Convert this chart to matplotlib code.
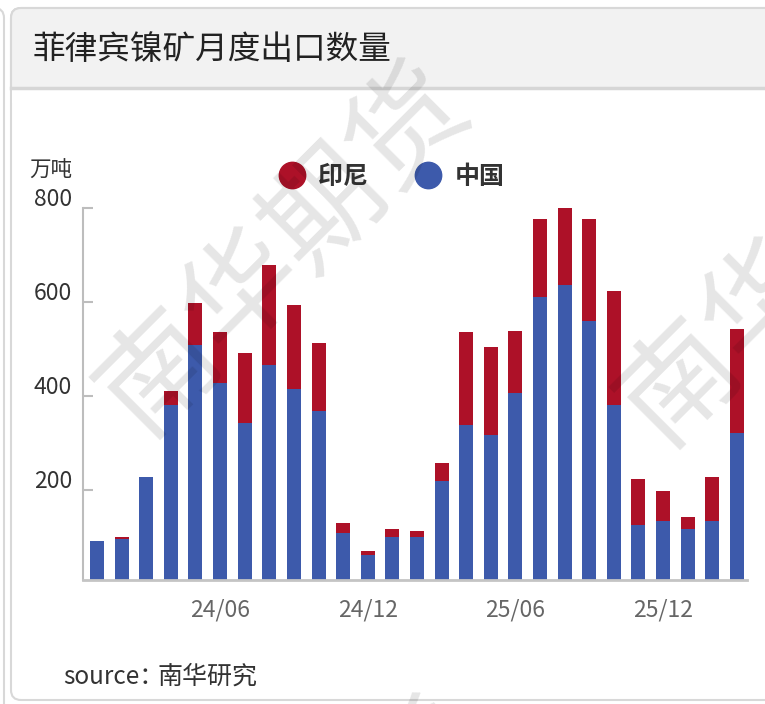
import matplotlib
matplotlib.use("Agg")
import matplotlib.pyplot as plt
from matplotlib.patches import FancyBboxPatch, Rectangle
from matplotlib.lines import Line2D
import matplotlib.transforms as mtransforms
import numpy as np

plt.rcParams['font.family'] = ['Noto Sans CJK SC', 'DejaVu Sans']

# ---- data ----
months = ['24/01', '24/02', '24/03', '24/04', '24/05', '24/06', '24/07', '24/08', '24/09',
          '24/10', '24/11', '24/12', '25/01', '25/02', '25/03', '25/04', '25/05', '25/06',
          '25/07', '25/08', '25/09', '25/10', '25/11', '25/12', '26/01', '26/02', '26/03']
china = [92, 96, 228, 381, 509, 428, 343, 466, 415, 368, 109, 62, 100, 100, 219, 339, 317,
         407, 611, 637, 560, 381, 126, 134, 117, 134, 322]
indonesia = [0, 4, 0, 30, 89, 107, 149, 213, 179, 145, 21, 8, 17, 13, 39, 196, 188, 132,
             166, 162, 217, 243, 98, 64, 26, 94, 221]
tick_labels = ['24/06', '24/12', '25/06', '25/12']
yticks = [200, 400, 600, 800]
series_names = ['印尼', '中国']

RED = '#ad1128'
BLUE = '#3d5aab'

W, H = 765, 704
fig = plt.figure(figsize=(W / 100, H / 100), dpi=100)
fig.patch.set_facecolor('white')
ident = mtransforms.IdentityTransform()


def box(x0, y0, x1, y1, **kw):
    # image pixel coords (top-left origin) -> display coords
    return FancyBboxPatch((x0, H - y1), x1 - x0, y1 - y0, transform=ident, **kw)


# previous card edge at the far left
fig.add_artist(box(-300, 8, 4, 720, boxstyle='round,pad=0,rounding_size=10',
                   facecolor='white', edgecolor='#d8d8d8', lw=1.5, zorder=-20))
# main card
fig.add_artist(box(11, 8, 790, 700, boxstyle='round,pad=0,rounding_size=10',
                   facecolor='white', edgecolor='#d8d8d8', lw=1.5, zorder=-20))
# title band
fig.add_artist(box(11, 8, 790, 100, boxstyle='round,pad=0,rounding_size=10',
                   facecolor='#f2f2f2', edgecolor='#d8d8d8', lw=1.5, zorder=-19))
fig.add_artist(Rectangle((12, H - 103), 780, 14, transform=ident,
                         facecolor='white', edgecolor='none', zorder=-18))
fig.add_artist(Line2D([11, 790], [H - 88, H - 88], transform=ident,
                      color='#d6d6d6', lw=2.5, zorder=-17))

fig.text(33 / W, 1 - 50 / H, '菲律宾镍矿月度出口数量', fontsize=23.5, color='#222222',
         va='center', ha='left')

# ---- axes ----
ax_left, ax_right, ax_top, ax_bottom = 83, 747, 208, 580
ax = fig.add_axes([ax_left / W, 1 - ax_bottom / H, (ax_right - ax_left) / W,
                   (ax_bottom - ax_top) / H])
ax.set_facecolor('none')

x = np.arange(len(months))
ax.bar(x, china, width=0.57, color=BLUE, zorder=2)
ax.bar(x, indonesia, width=0.57, bottom=china, color=RED, zorder=2)

ax.set_xlim(-0.57, len(months) - 1 + 0.41)
ax.set_ylim(8, 800)
ax.set_yticks(yticks)
ax.set_yticklabels([str(v) for v in yticks])
ax.set_xticks([months.index(t) for t in tick_labels])
ax.set_xticklabels(tick_labels)

for s in ['top', 'right']:
    ax.spines[s].set_visible(False)
ax.spines['left'].set_color('#bdbdbd')
ax.spines['left'].set_linewidth(1.5)
ax.spines['bottom'].set_color('#c4c4c4')
ax.spines['bottom'].set_linewidth(2)

ax.tick_params(axis='y', direction='in', length=7.5, width=1.5, color='#bdbdbd',
               labelsize=16.5, labelcolor='#333333', pad=8)
ax.tick_params(axis='x', length=0, labelsize=16.5, labelcolor='#666666', pad=13)
offset = mtransforms.ScaledTranslation(0, 0.11, fig.dpi_scale_trans)
for lab in ax.get_yticklabels():
    lab.set_transform(lab.get_transform() + offset)

fig.text(72 / W, 1 - 171 / H, '万吨', fontsize=15.5, color='#333333', ha='right', va='center')

# legend
handles = [Line2D([], [], marker='o', ls='none', markersize=19, color=RED),
           Line2D([], [], marker='o', ls='none', markersize=19, color=BLUE)]
fig.legend(handles, series_names, loc='center', bbox_to_anchor=(392 / W, 1 - 177 / H),
           ncol=2, frameon=False, handlelength=1.0, handletextpad=0.55, columnspacing=1.9,
           prop={'family': ['Noto Sans CJK SC', 'DejaVu Sans'], 'weight': 'bold', 'size': 18},
           labelcolor='#333333')

# source
t1 = fig.text(63 / W, 1 - 677 / H, 'source：', fontsize=17.5, color='#333333', va='center')
fig.canvas.draw()
bb = t1.get_window_extent()
fig.text(bb.x1 / W - 6 / W, 1 - 677 / H, '南华研究', fontsize=18, color='#333333',
         va='center', style='italic')

# watermark
for cx, cy in [(285, 250), (805, 260), (300, 885)]:
    fig.text(cx / W, 1 - cy / H, '南华期货', fontsize=84, rotation=45, color='black',
             alpha=0.10, ha='center', va='center', fontweight='medium', zorder=10)

fig.savefig('out.png', dpi=100)
